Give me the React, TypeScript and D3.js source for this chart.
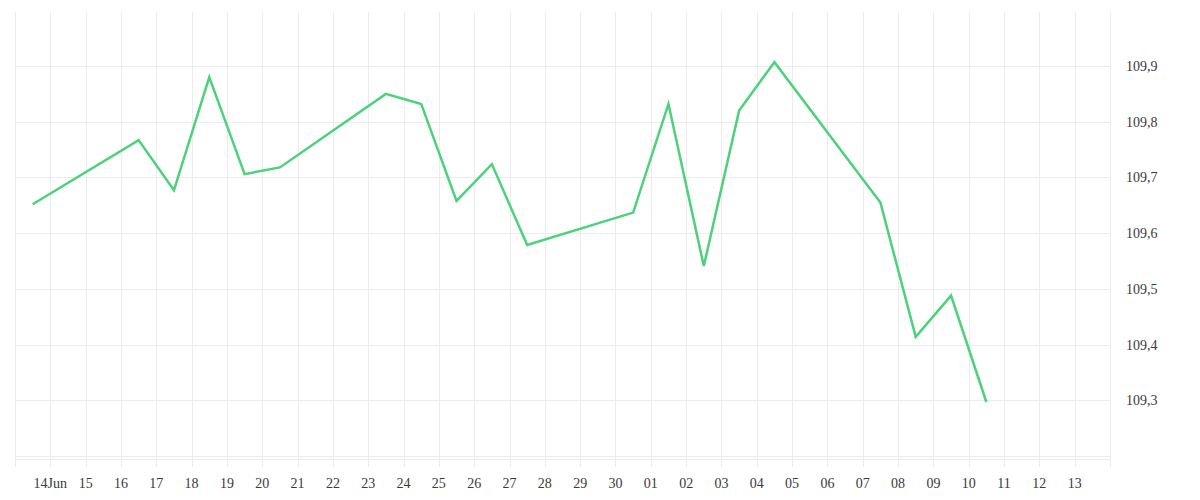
import React, { useEffect, useRef } from 'react';
import * as d3 from 'd3';

// Daily closes (plotted at mid-day)
const dates = [
  '2024-06-13', '2024-06-16', '2024-06-17', '2024-06-18', '2024-06-19', '2024-06-20',
  '2024-06-23', '2024-06-24', '2024-06-25', '2024-06-26', '2024-06-27', '2024-06-30',
  '2024-07-01', '2024-07-02', '2024-07-03', '2024-07-04', '2024-07-07', '2024-07-08',
  '2024-07-09', '2024-07-10',
];
const values = [
  109.652, 109.767, 109.677, 109.880, 109.706, 109.718,
  109.850, 109.832, 109.658, 109.724, 109.579, 109.637,
  109.832, 109.541, 109.820, 109.907, 109.655, 109.414,
  109.488, 109.297,
];
const gridValues = [109.2, 109.3, 109.4, 109.5, 109.6, 109.7, 109.8, 109.9];
const labelValues = [109.3, 109.4, 109.5, 109.6, 109.7, 109.8, 109.9];

interface Point { date: Date; value: number }

const App: React.FC = () => {
  const svgRef = useRef<SVGSVGElement>(null);

  useEffect(() => {
    if (!svgRef.current) return;
    const svg = d3.select(svgRef.current);
    svg.selectAll('*').remove();

    const left = 15, right = 1110, top = 12, bottom = 459;
    const font = '"Liberation Serif", "Times New Roman", serif';

    const data: Point[] = dates.map((d, i) => ({
      date: d3.timeHour.offset(d3.timeParse('%Y-%m-%d')(d) as Date, 12),
      value: values[i],
    }));

    const x = d3.scaleTime()
      .domain([new Date(2024, 5, 13), new Date(2024, 6, 14)])
      .range([left, right]);

    const y = d3.scaleLinear()
      .domain([109.1947, 109.997])
      .range([bottom, top]);

    const grid = '#ececec';

    // vertical day grid (extends below axis as ticks)
    const days = d3.timeDay.range(new Date(2024, 5, 13), new Date(2024, 6, 15));
    svg.append('g')
      .selectAll('line')
      .data(days)
      .enter()
      .append('line')
      .attr('x1', d => Math.round(x(d)) + 0.5)
      .attr('x2', d => Math.round(x(d)) + 0.5)
      .attr('y1', top)
      .attr('y2', 467)
      .attr('stroke', grid)
      .attr('stroke-width', 1);

    // horizontal grid
    svg.append('g')
      .selectAll('line')
      .data(gridValues)
      .enter()
      .append('line')
      .attr('x1', left)
      .attr('x2', right)
      .attr('y1', d => Math.round(y(d)) + 0.5)
      .attr('y2', d => Math.round(y(d)) + 0.5)
      .attr('stroke', grid)
      .attr('stroke-width', 1);

    // bottom axis line
    svg.append('line')
      .attr('x1', left)
      .attr('x2', right)
      .attr('y1', bottom + 0.5)
      .attr('y2', bottom + 0.5)
      .attr('stroke', grid)
      .attr('stroke-width', 1);

    // x labels
    const tickDays = days.slice(1, -1);
    svg.append('g')
      .selectAll('text')
      .data(tickDays)
      .enter()
      .append('text')
      .attr('x', d => x(d))
      .attr('y', 488)
      .attr('text-anchor', 'middle')
      .attr('font-family', font)
      .attr('font-size', 14)
      .attr('fill', '#3a3a3a')
      .text((d, i) => i === 0 ? d3.timeFormat('%d%b')(d) : d3.timeFormat('%d')(d));

    // y labels
    svg.append('g')
      .selectAll('text')
      .data(labelValues)
      .enter()
      .append('text')
      .attr('x', 1126)
      .attr('y', d => y(d) + 5)
      .attr('font-family', font)
      .attr('font-size', 14)
      .attr('fill', '#3a3a3a')
      .text(d => d3.format('.1f')(d).replace('.', ','));

    // line
    const line = d3.line<Point>()
      .x(d => x(d.date))
      .y(d => y(d.value));

    svg.append('path')
      .datum(data)
      .attr('fill', 'none')
      .attr('stroke', '#4cd27b')
      .attr('stroke-width', 2.5)
      .attr('d', line);
  }, []);

  return (
    <div style={{ position: 'absolute', left: 0, top: 0, width: 1200, height: 500, background: '#fff' }}>
      <svg ref={svgRef} width={1200} height={500} style={{ display: 'block' }} />
    </div>
  );
};

export default App;
